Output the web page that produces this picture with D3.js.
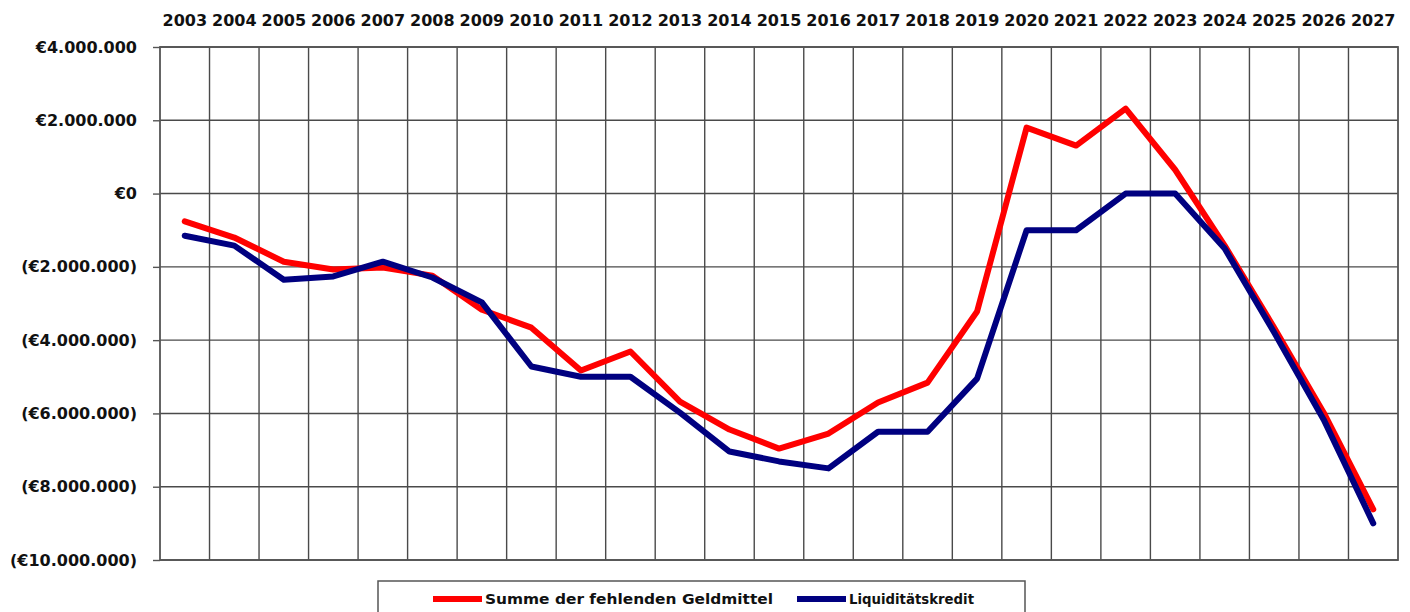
<!DOCTYPE html>
<html>
<head>
<meta charset="utf-8">
<script src="https://cdn.jsdelivr.net/npm/d3@7"></script>
<style>
  body { margin: 0; background: #fff; }
  svg { display: block; }
  text { font-family: "DejaVu Sans", sans-serif; font-weight: bold; fill: #111; }
</style>
</head>
<body>
<svg id="chart" width="1410" height="612"></svg>
<script>
// Jahre (Kategorien)
const years = ['2003', '2004', '2005', '2006', '2007', '2008', '2009', '2010', '2011', '2012',
  '2013', '2014', '2015', '2016', '2017', '2018', '2019', '2020', '2021', '2022',
  '2023', '2024', '2025', '2026', '2027'];

// Summe der fehlenden Geldmittel (EUR)
const fehlendeGeldmittel = [-760000, -1200000, -1860000, -2070000, -2020000, -2240000, -3170000,
  -3660000, -4830000, -4310000, -5680000, -6440000, -6960000, -6550000, -5700000, -5160000,
  -3220000, 1800000, 1310000, 2320000, 650000, -1420000, -3660000, -5980000, -8620000];

// Liquiditätskredit (EUR)
const liquiditaetskredit = [-1150000, -1420000, -2350000, -2260000, -1860000, -2290000, -2970000,
  -4720000, -5000000, -5000000, -5980000, -7040000, -7310000, -7500000, -6500000, -6500000,
  -5050000, -1000000, -1000000, 0, 0, -1500000, -3790000, -6170000, -9000000];

const yTicks = [4000000, 2000000, 0, -2000000, -4000000, -6000000, -8000000, -10000000];

const series = [
  {name: 'Summe der fehlenden Geldmittel', values: fehlendeGeldmittel, color: '#ff0000'},
  {name: 'Liquiditätskredit', values: liquiditaetskredit, color: '#000080'}
];

const svg = d3.select('#chart');
const margin = {top: 47, right: 12, bottom: 52, left: 160};
const width = +svg.attr('width') - margin.left - margin.right;
const height = +svg.attr('height') - margin.top - margin.bottom;
const g = svg.append('g').attr('transform', `translate(${margin.left},${margin.top})`);

const x = d3.scaleBand().domain(years).range([0, width]).padding(0);
const y = d3.scaleLinear().domain([-10000000, 4000000]).range([height, 0]);

const de = d3.formatLocale({decimal: ',', thousands: '.', grouping: [3], currency: ['€', '']});
const fmt = de.format(',.0f');
const euro = v => v === 0 ? '€0' : (v < 0 ? `(€${fmt(-v)})` : `€${fmt(v)}`);

// Gitternetz horizontal
g.append('g')
  .selectAll('line')
  .data(yTicks).enter()
  .append('line')
  .attr('x1', 0).attr('x2', width)
  .attr('y1', d => y(d)).attr('y2', d => y(d))
  .attr('stroke', '#4a4a4a').attr('stroke-width', 1.4);

// Gitternetz vertikal
g.append('g')
  .selectAll('line')
  .data(years.slice(1)).enter()
  .append('line')
  .attr('x1', d => x(d)).attr('x2', d => x(d))
  .attr('y1', 0).attr('y2', height)
  .attr('stroke', '#4a4a4a').attr('stroke-width', 1.4);

// Rahmen
g.append('rect')
  .attr('width', width).attr('height', height)
  .attr('fill', 'none').attr('stroke', '#555').attr('stroke-width', 1.8);

// y-Achse
const yAxis = g.append('g')
  .call(d3.axisLeft(y).tickValues(yTicks).tickFormat(euro).tickSize(7).tickPadding(16));
yAxis.select('.domain').remove();
yAxis.selectAll('line').attr('stroke', '#555').attr('stroke-width', 1.4);
yAxis.selectAll('text').style('font-size', '16px').attr('fill', '#111');

// x-Achse oben
const xAxis = g.append('g')
  .call(d3.axisTop(x).tickSize(0).tickPadding(21));
xAxis.select('.domain').remove();
xAxis.selectAll('text').style('font-size', '16px').attr('fill', '#111');

// Linien
const line = d3.line()
  .x((d, i) => x(years[i]) + x.bandwidth() / 2)
  .y(d => y(d));

g.append('g')
  .selectAll('path')
  .data(series).enter()
  .append('path')
  .attr('fill', 'none')
  .attr('stroke', d => d.color)
  .attr('stroke-width', 6)
  .attr('stroke-linejoin', 'round')
  .attr('stroke-linecap', 'round')
  .attr('d', d => line(d.values));

// Legende
const legend = svg.append('g').attr('transform', 'translate(378,581)');
legend.append('rect')
  .attr('width', 647).attr('height', 40)
  .attr('fill', '#fff').attr('stroke', '#555').attr('stroke-width', 1.5);

const legendX = [55, 419];
const item = legend.selectAll('.item')
  .data(series).enter()
  .append('g')
  .attr('class', 'item')
  .attr('transform', (d, i) => `translate(${legendX[i]},18)`);
item.append('line')
  .attr('x1', 0).attr('x2', 49)
  .attr('stroke', d => d.color).attr('stroke-width', 6);
item.append('text')
  .attr('x', 52).attr('dy', '0.35em')
  .style('font-size', '14px')
  .attr('textLength', (d, i) => i === 0 ? 288 : 125)
  .attr('lengthAdjust', 'spacingAndGlyphs')
  .text(d => d.name);
</script>
</body>
</html>
